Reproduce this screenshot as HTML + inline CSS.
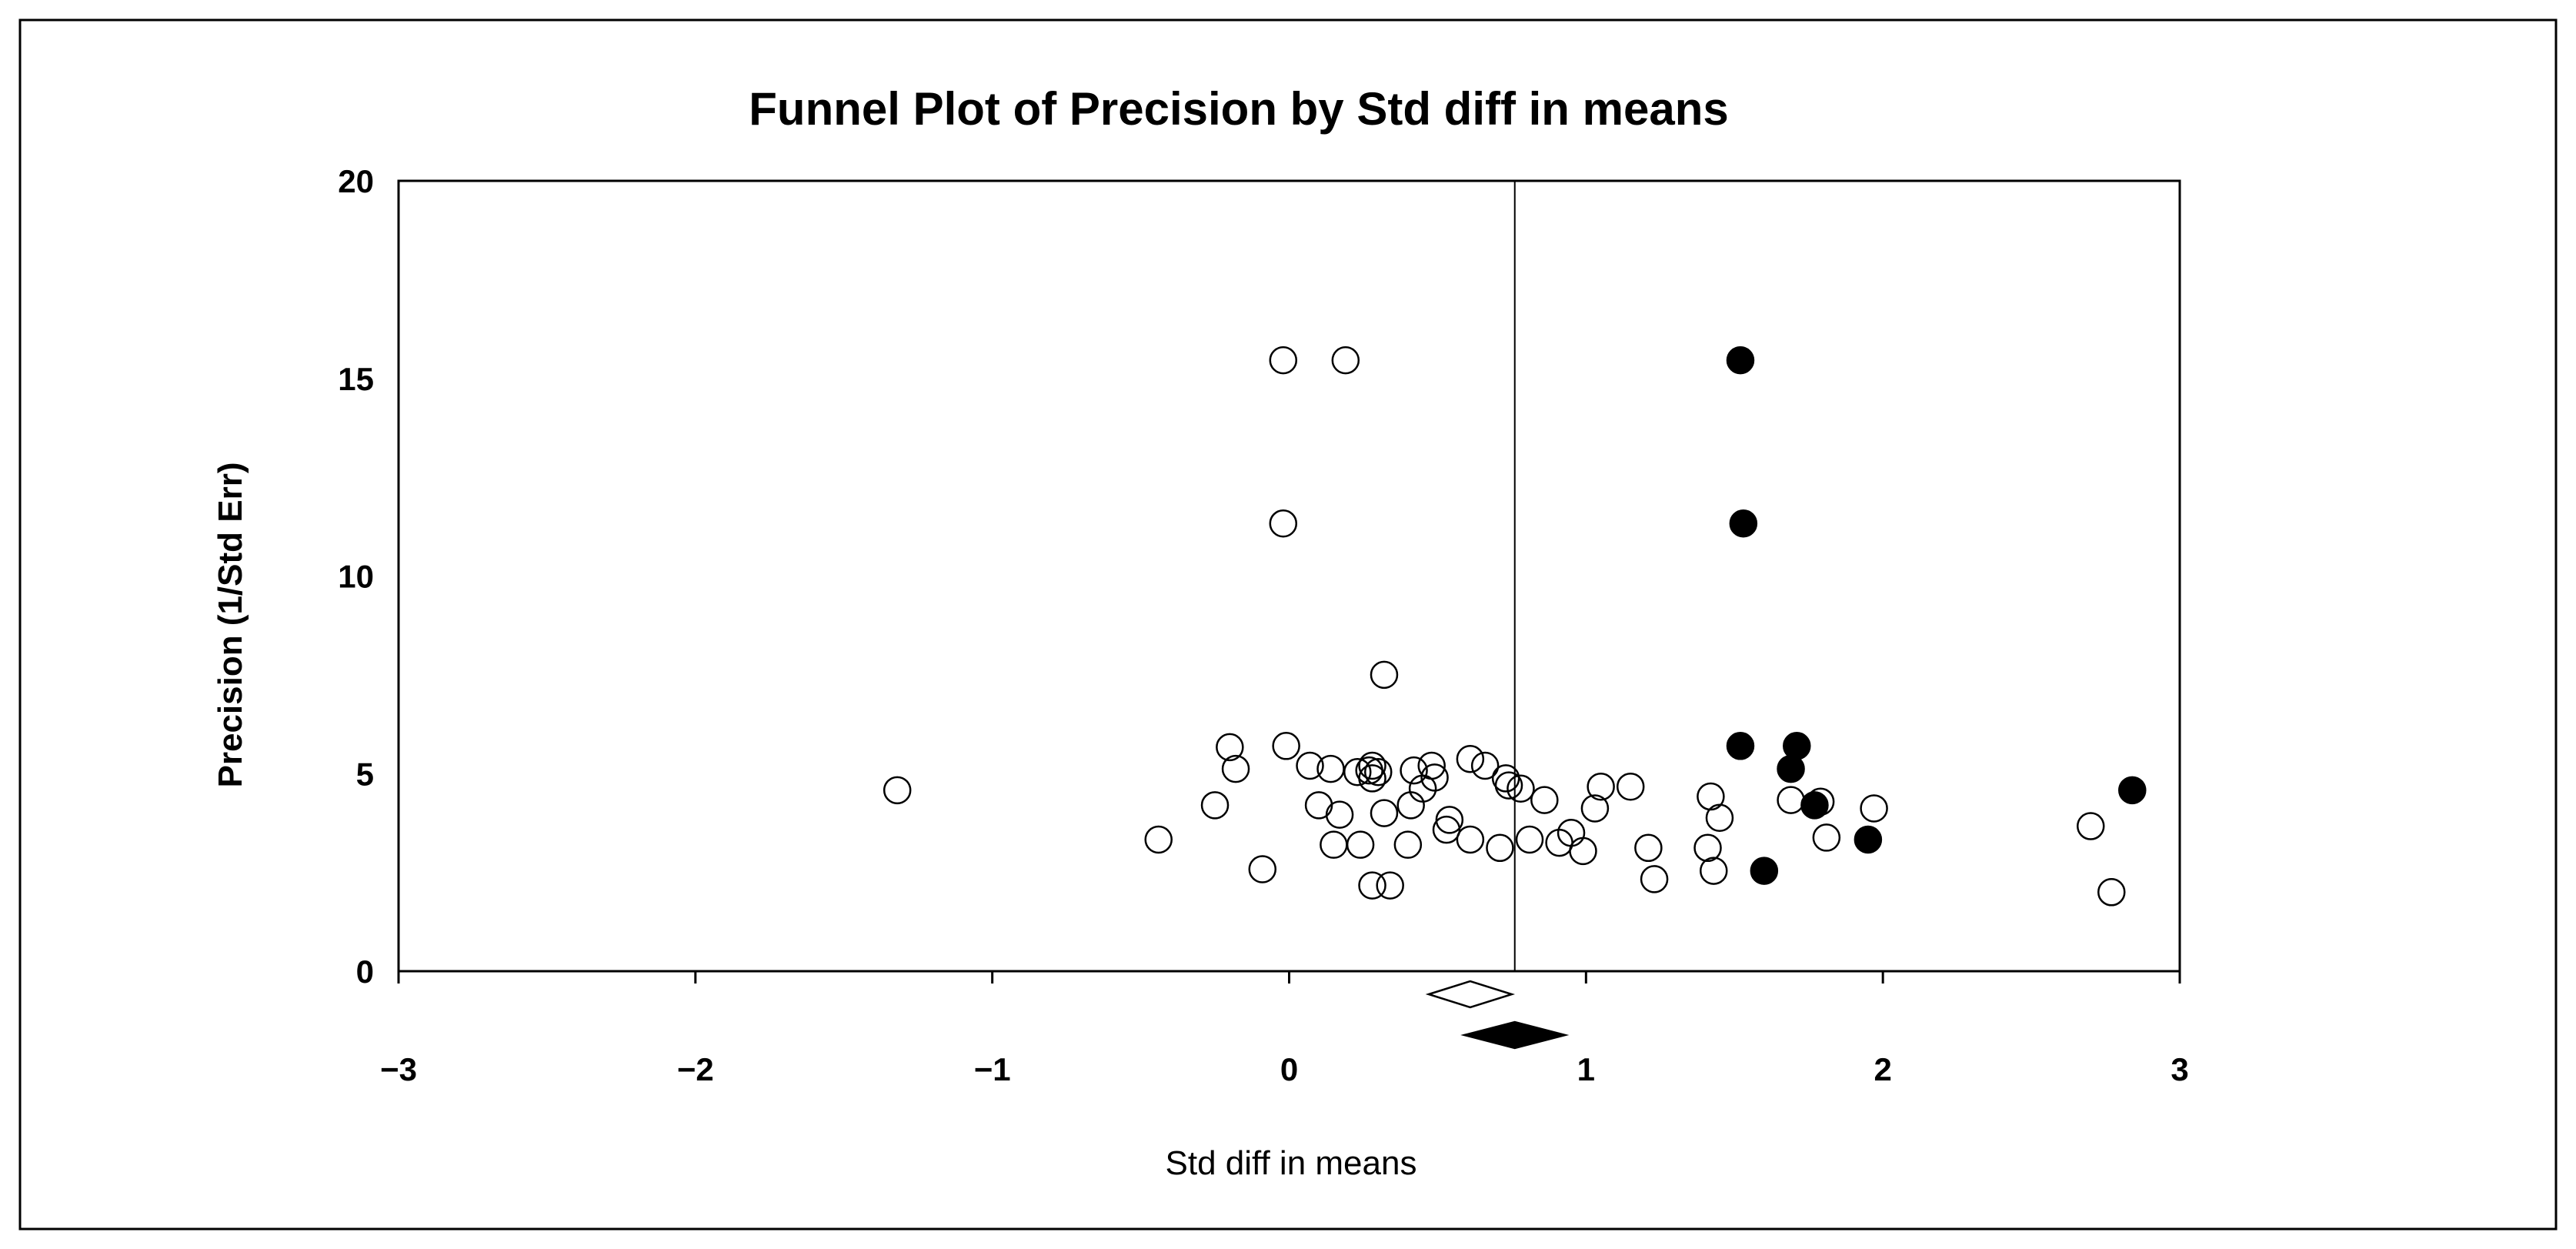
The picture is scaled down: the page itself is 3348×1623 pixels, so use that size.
<!DOCTYPE html>
<html><head><meta charset="utf-8"><style>
html,body{margin:0;padding:0;background:#fff;}
svg{display:block;font-family:"Liberation Sans",Arial,sans-serif;}
</style></head><body>
<svg id="chart" width="3348" height="1623" viewBox="0 0 3348 1623">
<rect x="26" y="26" width="3296" height="1571" fill="#fff" stroke="#000" stroke-width="3"/>
<text x="1610" y="162" text-anchor="middle" font-size="60" font-weight="bold">Funnel Plot of Precision by Std diff in means</text>
<rect x="518" y="235" width="2315" height="1027" fill="none" stroke="#000" stroke-width="3"/>
<g id="axes"></g>
<g id="marks"></g>
<text transform="translate(314,812) rotate(-90)" text-anchor="middle" font-size="44" font-weight="bold">Precision (1/Std Err)</text>
<text x="1678" y="1526" text-anchor="middle" font-size="44">Std diff in means</text>
</svg>
<script>
const xTicks = [-3,-2,-1,0,1,2,3];
const yTicks = [0,5,10,15,20];
const xTickLabels = ["\u22123","\u22122","\u22121","0","1","2","3"];
const yTickLabels = ["0","5","10","15","20"];
const openX = [-1.32,-0.02,0.19,-0.02,0.32,-0.2,-0.01,-0.18,0.07,0.14,0.23,0.27,0.28,0.28,0.3,0.42,0.48,0.49,0.61,0.66,0.73,0.74,0.78,0.86,1.05,1.03,1.15,0.45,0.41,0.1,0.17,0.32,-0.25,-0.44,-0.09,0.15,0.24,0.4,0.54,0.53,0.61,0.71,0.81,0.91,0.95,0.99,1.21,1.23,0.28,0.34,1.41,1.42,1.45,1.43,1.69,1.79,1.81,1.97,2.7,2.77];
const openY = [4.58,15.46,15.46,11.33,7.5,5.67,5.7,5.12,5.2,5.12,5.04,5.08,4.88,5.2,5.04,5.08,5.2,4.9,5.37,5.2,4.88,4.7,4.62,4.33,4.67,4.12,4.67,4.62,4.2,4.2,3.96,4.0,4.2,3.33,2.58,3.2,3.2,3.2,3.83,3.58,3.33,3.12,3.33,3.25,3.5,3.04,3.12,2.33,2.17,2.17,3.12,4.42,3.88,2.54,4.33,4.29,3.38,4.12,3.67,2.0];
const filledX = [1.52,1.53,1.52,1.71,1.69,1.77,1.60,1.95,2.84];
const filledY = [15.46,11.33,5.7,5.7,5.12,4.2,2.54,3.33,4.58];
const meanObserved = 0.61, halfObserved = 0.14;
const meanAdjusted = 0.76, halfAdjusted = 0.17;

const L=518,R=2833,T=235,B=1262;
const sx = v => L + (v+3)/6*(R-L);
const sy = v => B - v/20*(B-T);
const NS="http://www.w3.org/2000/svg";
const axes=document.getElementById('axes'), marks=document.getElementById('marks');
function mk(tag,attrs,parent){const e=document.createElementNS(NS,tag);for(const k in attrs)e.setAttribute(k,attrs[k]);parent.appendChild(e);return e;}

xTicks.forEach((t,i)=>{
  const tk=mk('line',{x1:sx(t),x2:sx(t),y1:B,y2:B+16,stroke:'#000','stroke-width':3},axes);
  
  
  const lb=mk('text',{x:sx(t),y:1404,'text-anchor':'middle','font-size':42,'font-weight':'bold'},axes);
  lb.textContent=xTickLabels[i];
  
  
});
yTicks.forEach((t,i)=>{
  const lb=mk('text',{x:486,y:sy(t)+15,'text-anchor':'end','font-size':42,'font-weight':'bold'},axes);
  lb.textContent=yTickLabels[i];
  
  
});
const ml=mk('line',{x1:sx(meanAdjusted),x2:sx(meanAdjusted),y1:T,y2:B,stroke:'#000','stroke-width':2},axes);



openX.forEach((v,i)=>{
  const c=mk('circle',{cx:sx(v),cy:sy(openY[i]),r:17,fill:'#fff','fill-opacity':0,stroke:'#000','stroke-width':2.5},marks);
  
  
});
filledX.forEach((v,i)=>{
  const c=mk('circle',{cx:sx(v),cy:sy(filledY[i]),r:17,fill:'#000',stroke:'#000','stroke-width':2.5},marks);
  
  
});
function diamond(m,h,cy,fill,name){
  const x0=sx(m-h),x1=sx(m),x2=sx(m+h);
  const d=mk('polygon',{points:`${x0},${cy} ${x1},${cy-17} ${x2},${cy} ${x1},${cy+17}`,fill:fill,stroke:'#000','stroke-width':2.5},marks);
  
  
}
diamond(meanObserved,halfObserved,1292,'#fff','observed-summary-diamond');
diamond(meanAdjusted,halfAdjusted,1345,'#000','adjusted-summary-diamond');
</script>
</body></html>
